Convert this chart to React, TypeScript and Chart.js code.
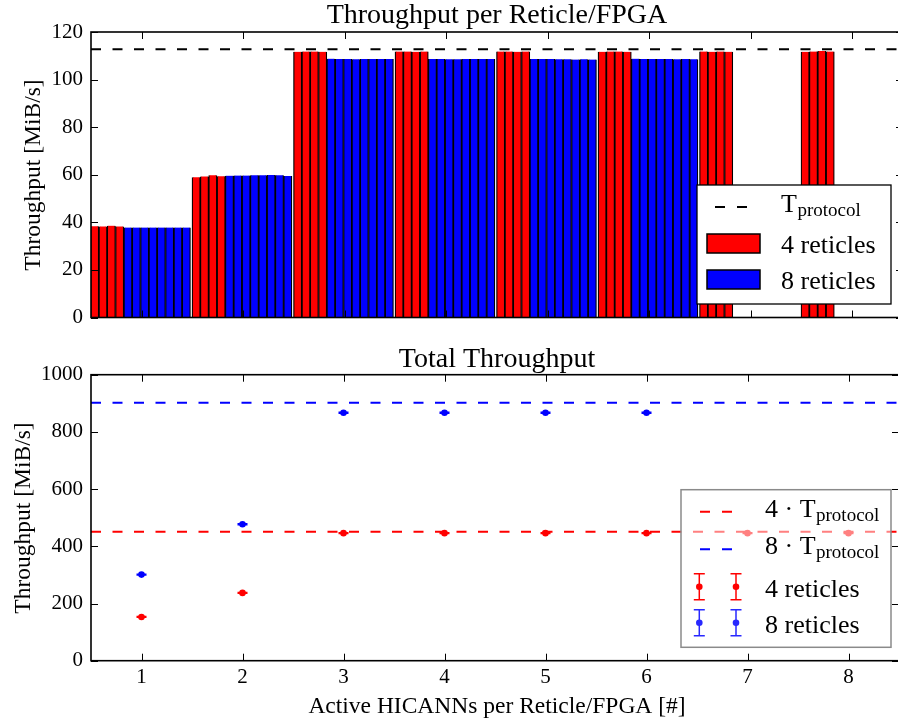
import React, { useEffect, useRef } from "react";
import { Chart, registerables } from "chart.js";

Chart.register(...registerables);

// ---------- data ----------
const hicanns = [1, 2, 3, 4, 5, 6, 7, 8];
const xTickLabels = ["1", "2", "3", "4", "5", "6", "7", "8"];
const topYTicks = [0, 20, 40, 60, 80, 100, 120];
const bottomYTicks = [0, 200, 400, 600, 800, 1000];
const tProtocol = 112.7;

// per reticle/FPGA throughput, 4 reticles (one bar per reticle)
const perReticle4 = [
  [38.4, 38.3, 38.6, 38.3],
  [59.0, 59.3, 59.8, 59.4],
  [111.7, 111.8, 111.8, 111.7],
  [111.8, 111.8, 111.7, 111.8],
  [111.8, 111.8, 111.7, 111.8],
  [111.7, 111.8, 111.8, 111.7],
  [111.8, 111.7, 111.8, 111.7],
  [111.7, 111.8, 112.0, 111.8],
];
// per reticle/FPGA throughput, 8 reticles
const perReticle8 = [
  [37.8, 37.8, 37.8, 37.8, 37.8, 37.8, 37.8, 37.8],
  [59.6, 59.7, 59.7, 59.8, 59.8, 59.9, 59.8, 59.5],
  [108.8, 108.6, 108.6, 108.5, 108.6, 108.6, 108.7, 108.6],
  [108.6, 108.7, 108.5, 108.5, 108.6, 108.6, 108.7, 108.6],
  [108.7, 108.7, 108.6, 108.5, 108.5, 108.4, 108.5, 108.4],
  [108.8, 108.6, 108.7, 108.6, 108.6, 108.5, 108.6, 108.5],
];
// total throughput
const total4 = [153, 237, 446, 446, 446, 446, 446, 446];
const total4Err = [1.5, 1.5, 1.5, 1.5, 1.5, 1.5, 1.5, 1.5];
const total8 = [301, 477, 867, 867, 867, 867];
const total8Err = [1.5, 1.5, 1.5, 1.5, 1.5, 1.5];

// ---------- style ----------
const SERIF = "'Liberation Serif', 'Times New Roman', serif";
const RED = "#ff0000";
const BLUE = "#0000ff";
const SLOTS = 12;
const GROUP_W = 0.985;
const slotX = (g: number, k: number) => g - 0.505 + ((k + 0.5) * GROUP_W) / SLOTS;

function drawFrameAndTicks(chart: any, xt: number[], yt: number[]) {
  const { ctx, chartArea: a, scales } = chart;
  ctx.save();
  ctx.strokeStyle = "#000";
  ctx.lineWidth = 1;
  ctx.beginPath();
  for (const v of xt) {
    const px = Math.round(scales.x.getPixelForValue(v)) + 0.5;
    ctx.moveTo(px, a.bottom);
    ctx.lineTo(px, a.bottom - 7);
    ctx.moveTo(px, a.top);
    ctx.lineTo(px, a.top + 7);
  }
  for (const v of yt) {
    const py = Math.round(scales.y.getPixelForValue(v)) + 0.5;
    ctx.moveTo(a.left, py);
    ctx.lineTo(a.left + 7, py);
    ctx.moveTo(a.right, py);
    ctx.lineTo(a.right - 7, py);
  }
  ctx.stroke();
  ctx.lineWidth = 1.6;
  ctx.strokeRect(a.left, a.top, a.right - a.left, a.bottom - a.top);
  ctx.restore();
}

function text(ctx: any, s: string, x: number, y: number, size: number, align = "left") {
  ctx.font = `${size}px ${SERIF}`;
  ctx.textAlign = align;
  ctx.textBaseline = "alphabetic";
  ctx.fillStyle = "#000";
  ctx.fillText(s, x, y);
}

function subText(ctx: any, main: string, sub: string, x: number, y: number, size: number, subSize: number) {
  text(ctx, main, x, y, size);
  ctx.font = `${size}px ${SERIF}`;
  const w = ctx.measureText(main).width;
  text(ctx, sub, x + w + 0.5, y + 4, subSize);
}

function vText(ctx: any, s: string, x: number, y: number, size: number) {
  ctx.save();
  ctx.translate(x, y);
  ctx.rotate(-Math.PI / 2);
  text(ctx, s, 0, 0, size, "center");
  ctx.restore();
}

function dashSample(ctx: any, x0: number, x1: number, y: number, color: string) {
  ctx.save();
  ctx.strokeStyle = color;
  ctx.lineWidth = 2;
  ctx.setLineDash([10, 12]);
  ctx.beginPath();
  ctx.moveTo(x0, y);
  ctx.lineTo(x1, y);
  ctx.stroke();
  ctx.restore();
}

function errMarker(ctx: any, x: number, y: number, half: number, color: string) {
  ctx.save();
  ctx.strokeStyle = color;
  ctx.fillStyle = color;
  ctx.lineWidth = 1.5;
  ctx.beginPath();
  ctx.moveTo(x, y - half);
  ctx.lineTo(x, y + half);
  ctx.moveTo(x - 5.5, y - half);
  ctx.lineTo(x + 5.5, y - half);
  ctx.moveTo(x - 5.5, y + half);
  ctx.lineTo(x + 5.5, y + half);
  ctx.stroke();
  ctx.beginPath();
  ctx.arc(x, y, 3.3, 0, Math.PI * 2);
  ctx.fill();
  ctx.restore();
}

const baseOptions = {
  animation: false,
  responsive: false,
  maintainAspectRatio: false,
  devicePixelRatio: 1,
  events: [],
  plugins: { legend: { display: false }, tooltip: { enabled: false }, title: { display: false } },
};

const barBorder = { left: 1.25, right: 1.25, top: 0, bottom: 0 };

export default function App() {
  const topRef = useRef<HTMLCanvasElement>(null);
  const botRef = useRef<HTMLCanvasElement>(null);

  useEffect(() => {
    const redData = perReticle4.flatMap((vals, gi) =>
      vals.map((v, k) => ({ x: slotX(hicanns[gi], k), y: v }))
    );
    const blueData = perReticle8.flatMap((vals, gi) =>
      vals.map((v, k) => ({ x: slotX(hicanns[gi], 4 + k), y: v }))
    );

    const topChart = new Chart(topRef.current as HTMLCanvasElement, {
      type: "bar",
      data: {
        datasets: [
          {
            type: "line",
            label: "T_protocol",
            data: [
              { x: 0.5, y: tProtocol },
              { x: 8.5, y: tProtocol },
            ],
            borderColor: "#000",
            borderWidth: 2,
            borderDash: [10, 11.5],
            pointRadius: 0,
            fill: false,
          } as any,
          {
            type: "bar",
            label: "4 reticles",
            data: redData,
            backgroundColor: RED,
            borderColor: "#000",
            borderWidth: barBorder,
            borderSkipped: false,
            grouped: false,
            barPercentage: 1,
            categoryPercentage: 1,
          } as any,
          {
            type: "bar",
            label: "8 reticles",
            data: blueData,
            backgroundColor: BLUE,
            borderColor: "#000",
            borderWidth: barBorder,
            borderSkipped: false,
            grouped: false,
            barPercentage: 1,
            categoryPercentage: 1,
          } as any,
        ],
      },
      options: {
        ...baseOptions,
        layout: { padding: { top: 32, left: 0, right: 0, bottom: 22.5 } },
        scales: {
          x: {
            type: "linear",
            min: 0.5,
            max: 8.5,
            offset: false,
            grid: { display: false, drawTicks: false, offset: false },
            border: { display: false },
            ticks: { display: false },
            afterBuildTicks: (s: any) => {
              s.ticks = hicanns.map((v) => ({ value: v }));
            },
            afterFit: (s: any) => {
              s.height = 0;
            },
          },
          y: {
            min: 0,
            max: 120,
            grid: { display: false, drawTicks: false },
            border: { display: false },
            ticks: {
              font: { family: SERIF, size: 21 },
              color: "#000",
              padding: 8,
              callback: (v: any) => String(v),
            },
            afterBuildTicks: (s: any) => {
              s.ticks = topYTicks.map((v) => ({ value: v }));
            },
            afterFit: (s: any) => {
              s.width = 91;
            },
          },
        },
      } as any,
      plugins: [
        {
          id: "decorTop",
          afterDraw(chart: any) {
            const ctx = chart.ctx;
            drawFrameAndTicks(chart, hicanns, topYTicks);
            text(ctx, "Throughput per Reticle/FPGA", 497, 23.3, 28, "center");
            vText(ctx, "Throughput [MiB/s]", 39.5, 175, 23.5);
            // legend
            ctx.save();
            ctx.fillStyle = "#fff";
            ctx.fillRect(697, 185, 194, 119);
            ctx.strokeStyle = "#000";
            ctx.lineWidth = 1.3;
            ctx.strokeRect(697, 185, 194, 119);
            ctx.restore();
            dashSample(ctx, 715, 747, 207, "#000");
            subText(ctx, "T", "protocol", 781, 211.7, 26, 19);
            ctx.save();
            ctx.lineWidth = 1.5;
            ctx.strokeStyle = "#000";
            ctx.fillStyle = RED;
            ctx.fillRect(707, 234, 53, 19);
            ctx.strokeRect(707, 234, 53, 19);
            ctx.fillStyle = BLUE;
            ctx.fillRect(707, 270, 53, 19);
            ctx.strokeRect(707, 270, 53, 19);
            ctx.restore();
            text(ctx, "4 reticles", 781, 253, 26);
            text(ctx, "8 reticles", 781, 289, 26);
          },
        },
      ],
    });

    const errs = [total4Err, total8Err];
    const botChart = new Chart(botRef.current as HTMLCanvasElement, {
      type: "scatter",
      data: {
        datasets: [
          {
            type: "scatter",
            label: "4 reticles",
            data: total4.map((v, i) => ({ x: hicanns[i], y: v })),
            backgroundColor: RED,
            borderColor: RED,
            pointRadius: 3.3,
            pointBorderWidth: 0,
          } as any,
          {
            type: "scatter",
            label: "8 reticles",
            data: total8.map((v, i) => ({ x: hicanns[i], y: v })),
            backgroundColor: BLUE,
            borderColor: BLUE,
            pointRadius: 3.3,
            pointBorderWidth: 0,
          } as any,
          {
            type: "line",
            label: "4·T_protocol",
            data: [
              { x: 0.5, y: 4 * tProtocol },
              { x: 8.5, y: 4 * tProtocol },
            ],
            borderColor: RED,
            borderWidth: 2,
            borderDash: [10, 11.5],
            pointRadius: 0,
            fill: false,
          } as any,
          {
            type: "line",
            label: "8·T_protocol",
            data: [
              { x: 0.5, y: 8 * tProtocol },
              { x: 8.5, y: 8 * tProtocol },
            ],
            borderColor: BLUE,
            borderWidth: 2,
            borderDash: [10, 11.5],
            pointRadius: 0,
            fill: false,
          } as any,
        ],
      },
      options: {
        ...baseOptions,
        layout: { padding: { top: 34.7, left: 0, right: 0, bottom: 0 } },
        scales: {
          x: {
            type: "linear",
            min: 0.5,
            max: 8.5,
            offset: false,
            grid: { display: false, drawTicks: false },
            border: { display: false },
            ticks: {
              font: { family: SERIF, size: 21 },
              color: "#000",
              padding: 4,
              callback: (v: any) => {
                const i = hicanns.indexOf(Number(v));
                return i >= 0 ? xTickLabels[i] : "";
              },
            },
            afterBuildTicks: (s: any) => {
              s.ticks = hicanns.map((v) => ({ value: v }));
            },
            afterFit: (s: any) => {
              s.height = 61.3;
            },
          },
          y: {
            min: 0,
            max: 1000,
            grid: { display: false, drawTicks: false },
            border: { display: false },
            ticks: {
              font: { family: SERIF, size: 21 },
              color: "#000",
              padding: 8,
              callback: (v: any) => String(v),
            },
            afterBuildTicks: (s: any) => {
              s.ticks = bottomYTicks.map((v) => ({ value: v }));
            },
            afterFit: (s: any) => {
              s.width = 91;
            },
          },
        },
      } as any,
      plugins: [
        {
          id: "decorBottom",
          afterDatasetsDraw(chart: any) {
            const ctx = chart.ctx;
            const { x: sx, y: sy } = chart.scales;
            ctx.save();
            ctx.beginPath();
            const a = chart.chartArea;
            ctx.rect(a.left, a.top, a.right - a.left, a.bottom - a.top);
            ctx.clip();
            [0, 1].forEach((di) => {
              const ds = chart.data.datasets[di];
              ctx.strokeStyle = ds.borderColor;
              ctx.lineWidth = 1.5;
              ds.data.forEach((p: any, i: number) => {
                const px = sx.getPixelForValue(p.x);
                const y0 = sy.getPixelForValue(p.y - errs[di][i]);
                const y1 = sy.getPixelForValue(p.y + errs[di][i]);
                ctx.beginPath();
                ctx.moveTo(px, y0);
                ctx.lineTo(px, y1);
                ctx.moveTo(px - 5, y0);
                ctx.lineTo(px + 5, y0);
                ctx.moveTo(px - 5, y1);
                ctx.lineTo(px + 5, y1);
                ctx.stroke();
              });
            });
            ctx.restore();
          },
          afterDraw(chart: any) {
            const ctx = chart.ctx;
            drawFrameAndTicks(chart, hicanns, bottomYTicks);
            text(ctx, "Total Throughput", 497, 26.5, 28, "center");
            vText(ctx, "Throughput [MiB/s]", 29.5, 178, 23.5);
            text(ctx, "Active HICANNs per Reticle/FPGA [#]", 497, 373.3, 23.5, "center");
            // legend
            ctx.save();
            ctx.fillStyle = "rgba(255,255,255,0.5)";
            ctx.fillRect(681, 149.7, 210, 157.6);
            ctx.strokeStyle = "#8a8a8a";
            ctx.lineWidth = 1.5;
            ctx.strokeRect(681, 149.7, 210, 157.6);
            ctx.restore();
            dashSample(ctx, 700, 732, 171.7, RED);
            subText(ctx, "4 · T", "protocol", 765, 176.7, 26, 19);
            dashSample(ctx, 700, 732, 209.3, BLUE);
            subText(ctx, "8 · T", "protocol", 765, 214, 26, 19);
            errMarker(ctx, 699.3, 246.7, 13, RED);
            errMarker(ctx, 736, 246.7, 13, RED);
            text(ctx, "4 reticles", 765, 256.7, 26);
            errMarker(ctx, 699.3, 282.7, 13, "rgba(40,40,255,1)");
            errMarker(ctx, 736, 282.7, 13, "rgba(40,40,255,1)");
            text(ctx, "8 reticles", 765, 292.7, 26);
          },
        },
      ],
    });

    return () => {
      topChart.destroy();
      botChart.destroy();
    };
  }, []);

  return (
    <div
      style={{
        position: "fixed",
        left: 0,
        top: 0,
        width: 898,
        height: 722,
        overflow: "hidden",
        background: "#fff",
      }}
    >
      <canvas
        ref={topRef}
        width={903}
        height={340}
        style={{ position: "absolute", left: 0, top: 0, width: 903, height: 340 }}
      />
      <canvas
        ref={botRef}
        width={903}
        height={382}
        style={{ position: "absolute", left: 0, top: 340, width: 903, height: 382 }}
      />
    </div>
  );
}
